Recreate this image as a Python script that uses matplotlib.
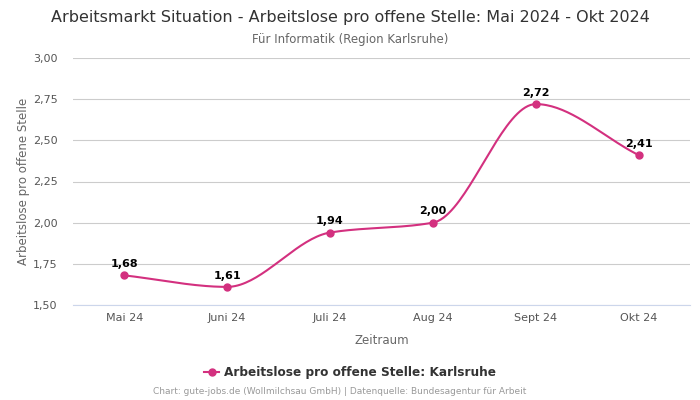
import numpy as np
import matplotlib
matplotlib.use("Agg")
import matplotlib.pyplot as plt
from matplotlib.lines import Line2D

categories = ["Mai 24", "Juni 24", "Juli 24", "Aug 24", "Sept 24", "Okt 24"]
values = [1.68, 1.61, 1.94, 2.00, 2.72, 2.41]
labels = ["1,68", "1,61", "1,94", "2,00", "2,72", "2,41"]
yticks = [1.50, 1.75, 2.00, 2.25, 2.50, 2.75, 3.00]
ytick_labels = ["1,50", "1,75", "2,00", "2,25", "2,50", "2,75", "3,00"]

color = "#d3307f"


def monotone_curve(x, y, n=40):
    x = np.asarray(x, float)
    y = np.asarray(y, float)
    h = np.diff(x)
    d = np.diff(y) / h
    m = np.zeros_like(y)
    m[0] = d[0]
    m[-1] = d[-1]
    for i in range(1, len(y) - 1):
        if d[i - 1] * d[i] <= 0:
            m[i] = 0
        else:
            w1 = 2 * h[i] + h[i - 1]
            w2 = h[i] + 2 * h[i - 1]
            m[i] = (w1 + w2) / (w1 / d[i - 1] + w2 / d[i])
    xs, ys = [], []
    for i in range(len(x) - 1):
        t = np.linspace(0, 1, n)
        h00 = 2 * t**3 - 3 * t**2 + 1
        h10 = t**3 - 2 * t**2 + t
        h01 = -2 * t**3 + 3 * t**2
        h11 = t**3 - t**2
        xs.append(x[i] + t * h[i])
        ys.append(h00 * y[i] + h10 * h[i] * m[i] + h01 * y[i + 1] + h11 * h[i] * m[i + 1])
    return np.concatenate(xs), np.concatenate(ys)


fig = plt.figure(figsize=(7, 4), dpi=100)
ax = fig.add_axes([0.104, 0.2375, 0.882, 0.6175])

xpos = np.arange(len(categories))
cx, cy = monotone_curve(xpos, values)
ax.plot(cx, cy, color=color, lw=1.5, zorder=3)
ax.plot(xpos, values, "o", color=color, ms=5, zorder=4)

for xi, v, lab in zip(xpos, values, labels):
    ax.annotate(lab, (xi, v), xytext=(0, 4.5), textcoords="offset points",
                ha="center", va="bottom", fontsize=8, fontweight="bold", color="black")

ax.set_xlim(-0.5, 5.5)
ax.set_ylim(1.5, 3.0)
ax.set_yticks(yticks)
ax.set_yticklabels(ytick_labels)
ax.set_xticks(xpos)
ax.set_xticklabels(categories)
ax.tick_params(axis="both", length=0, labelsize=8, colors="#555555")
ax.tick_params(axis="y", pad=11)
ax.tick_params(axis="x", pad=6)
ax.grid(axis="y", color="#cccccc", lw=0.8)
ax.set_axisbelow(True)
for s in ["top", "right", "left"]:
    ax.spines[s].set_visible(False)
ax.spines["bottom"].set_color("#ccd6eb")
ax.spines["bottom"].set_linewidth(0.8)

ax.set_ylabel("Arbeitslose pro offene Stelle", fontsize=8.5, color="#666666", labelpad=2)
ax.set_xlabel("Zeitraum", fontsize=8.5, color="#666666", labelpad=8)

fig.text(0.5, 0.957, "Arbeitsmarkt Situation - Arbeitslose pro offene Stelle: Mai 2024 - Okt 2024",
         ha="center", va="center", fontsize=11.5, color="#333333")
fig.text(0.5, 0.902, "Für Informatik (Region Karlsruhe)", ha="center", va="center",
         fontsize=8.5, color="#666666")

handle = Line2D([], [], color=color, marker="o", ms=5, lw=1.5)
fig.legend([handle], ["Arbeitslose pro offene Stelle: Karlsruhe"], loc="center",
           bbox_to_anchor=(0.5, 0.068), frameon=False, handlelength=1.2, handletextpad=0.4,
           prop={"size": 8.7, "weight": "bold"}, labelcolor="#333333")
fig.text(0.485, 0.02, "Chart: gute-jobs.de (Wollmilchsau GmbH) | Datenquelle: Bundesagentur für Arbeit",
         ha="center", va="center", fontsize=6.5, color="#999999")

fig.savefig("out.png", dpi=100)
